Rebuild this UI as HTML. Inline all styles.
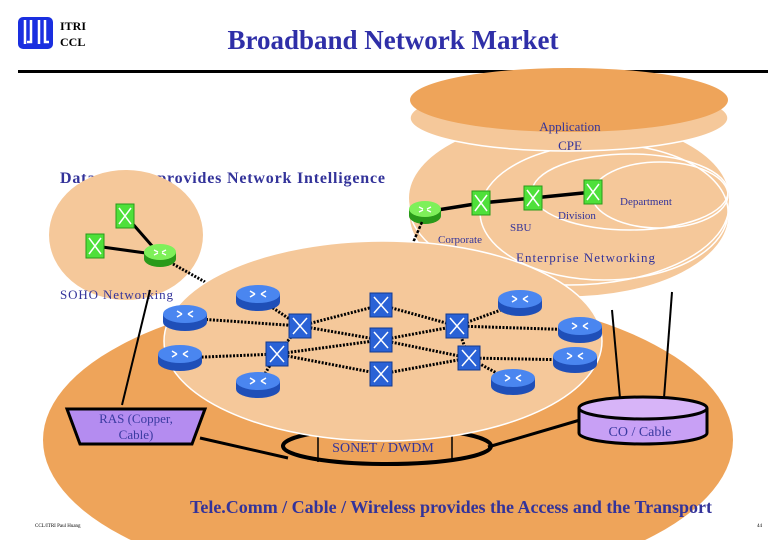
<!DOCTYPE html>
<html><head><meta charset="utf-8"><style>
html,body{margin:0;padding:0;background:#fff;width:780px;height:540px;overflow:hidden;}
svg{display:block;}
text{font-family:"Liberation Serif",serif;}
</style></head><body>
<svg width="780" height="540" viewBox="0 0 780 540" xmlns="http://www.w3.org/2000/svg">
<defs>
<g id="rb"><ellipse cx="0" cy="4" rx="22" ry="9" fill="#1f4fb8"/><rect x="-22" y="-4" width="44" height="8" fill="#1f4fb8"/><ellipse cx="0" cy="-4" rx="22" ry="9" fill="#4a86f0"/><path d="M-8,-7 l5,3 M8,-7 l-5,3 M-8,-1 l5,-3 M8,-1 l-5,-3" stroke="#fff" stroke-width="1.5"/></g>
<g id="sb"><rect x="-11" y="-12" width="22" height="24" fill="#2a62d6" stroke="#123a90"/><path d="M-7,-8 L7,8 M7,-8 L-7,8" stroke="#fff" stroke-width="1.5"/></g>
<g id="rg"><ellipse cx="0" cy="4" rx="16" ry="8" fill="#2a9a1a"/><rect x="-16" y="-3" width="32" height="7" fill="#2a9a1a"/><ellipse cx="0" cy="-3" rx="16" ry="8" fill="#7ef05a"/><path d="M-6,-5 l4,2 M6,-5 l-4,2 M-6,0 l4,-2 M6,0 l-4,-2" stroke="#fff" stroke-width="1.3"/></g>
<g id="sg"><rect x="-9" y="-12" width="18" height="24" fill="#4fe03a" stroke="#2a9a1a"/><path d="M-6,-8 L6,8 M6,-8 L-6,8" stroke="#fff" stroke-width="1.5"/></g>
</defs>
<!-- header -->
<rect x="18" y="17" width="35" height="32" rx="5" fill="#1a2fe0"/>
<path d="M25,20 v24 M31,20 v22 h-4 M39,20 v24 M45,20 v22 h4" stroke="#fff" stroke-width="2.5" fill="none"/>
<text x="60" y="30" font-size="12" font-weight="bold">ITRI</text>
<text x="60" y="46" font-size="12" font-weight="bold">CCL</text>
<text x="393" y="49" font-size="27" font-weight="bold" fill="#2f2fa8" text-anchor="middle">Broadband Network Market</text>
<rect x="18" y="70" width="750" height="3" fill="#000"/>
<!-- big orange -->
<ellipse cx="388" cy="440" rx="345" ry="150" fill="#eea45a"/>
<text x="190" y="513" font-size="18" font-weight="bold" fill="#33339a" textLength="522">Tele.Comm / Cable / Wireless provides the Access and the Transport</text>
<text x="35" y="527" font-size="5" fill="#000">CCL/ITRI Paul Huang</text>
<text x="757" y="527" font-size="5" fill="#000">44</text>
<!-- enterprise stack -->
<ellipse cx="569" cy="215" rx="160" ry="82" fill="#f5c89a" stroke="#fff" stroke-width="1.5"/>
<ellipse cx="569" cy="205" rx="160" ry="80" fill="#f5c89a" stroke="#fff" stroke-width="1.5"/>
<ellipse cx="569" cy="198" rx="160" ry="80" fill="#f5c89a"/>
<ellipse cx="604" cy="212" rx="124" ry="68" fill="none" stroke="#fff" stroke-width="1.5"/>
<ellipse cx="630" cy="192" rx="98" ry="38" fill="none" stroke="#fff" stroke-width="1.5"/>
<ellipse cx="660" cy="195" rx="68" ry="33" fill="none" stroke="#fff" stroke-width="1.5"/>
<ellipse cx="569" cy="118" rx="159" ry="33" fill="#f5c89a" stroke="#fff" stroke-width="1.5"/>
<ellipse cx="569" cy="100" rx="159" ry="32" fill="#eea45a"/>
<text x="570" y="131" font-size="13" fill="#33339a" text-anchor="middle">Application</text>
<text x="570" y="150" font-size="13" fill="#33339a" text-anchor="middle">CPE</text>
<path d="M425,212 L481,203 L533,198 L593,192" stroke="#000" stroke-width="3.5" fill="none"/>
<use href="#rg" x="425" y="212"/><use href="#sg" x="481" y="203"/><use href="#sg" x="533" y="198"/><use href="#sg" x="593" y="192"/>
<text x="620" y="205" font-size="11" fill="#33339a">Department</text>
<text x="558" y="219" font-size="11" fill="#33339a">Division</text>
<text x="510" y="231" font-size="11" fill="#33339a">SBU</text>
<text x="438" y="243" font-size="11" fill="#33339a">Corporate</text>
<text x="516" y="262" font-size="13" fill="#33339a" textLength="139">Enterprise Networking</text>
<!-- data center text + SOHO -->
<text x="60" y="183" font-size="16" font-weight="bold" fill="#33339a" textLength="325">Data Center provides Network Intelligence</text>
<ellipse cx="126" cy="235" rx="77" ry="65" fill="#f5c89a"/>
<path d="M125,215 L160,255 L95,246" stroke="#000" stroke-width="3" fill="none"/>
<use href="#sg" x="125" y="216"/><use href="#sg" x="95" y="246"/><use href="#rg" x="160" y="255"/>
<text x="60" y="299" font-size="13" fill="#33339a" textLength="113">SOHO Networking</text>
<!-- connectors -->
<path d="M173,264 L205,282" stroke="#000" stroke-width="3" stroke-dasharray="2,1.5"/>
<path d="M422,222 L412,245" stroke="#000" stroke-width="2.5" stroke-dasharray="3,1.5"/>
<path d="M150,290 L122,405" stroke="#000" stroke-width="2"/>
<path d="M672,292 L664,398" stroke="#000" stroke-width="2"/>
<path d="M612,310 L620,398" stroke="#000" stroke-width="2"/>
<path d="M200,438 L288,458" stroke="#000" stroke-width="3"/>
<path d="M580,420 L488,447" stroke="#000" stroke-width="3"/>
<!-- SONET ring -->
<ellipse cx="387" cy="446" rx="104" ry="18" fill="none" stroke="#000" stroke-width="4"/>
<path d="M318,425 V462 M452,425 V462" stroke="#000" stroke-width="1.5"/>
<text x="383" y="452" font-size="14" fill="#33339a" text-anchor="middle">SONET / DWDM</text>
<!-- core -->
<ellipse cx="383" cy="341" rx="219" ry="100" fill="#f5c89a" stroke="#fff" stroke-width="1.5"/>
<g stroke="#000" stroke-width="3" stroke-dasharray="2,1.5" fill="none">
<path d="M258,298 L300,326 M185,318 L300,326 M300,326 L381,305 M300,326 L381,340 M300,326 L277,354 M277,354 L180,358 M277,354 L258,385 M277,354 L381,340 M277,354 L381,374 M381,305 L457,326 M381,340 L457,326 M381,340 L469,358 M381,374 L469,358 M457,326 L520,303 M457,326 L580,330 M457,326 L469,358 M469,358 L575,360 M469,358 L513,382"/>
</g>
<use href="#rb" x="258" y="298"/><use href="#rb" x="185" y="318"/><use href="#rb" x="180" y="358"/><use href="#rb" x="258" y="385"/>
<use href="#rb" x="520" y="303"/><use href="#rb" x="580" y="330"/><use href="#rb" x="575" y="360"/><use href="#rb" x="513" y="382"/>
<use href="#sb" x="381" y="305"/><use href="#sb" x="300" y="326"/><use href="#sb" x="381" y="340"/><use href="#sb" x="277" y="354"/>
<use href="#sb" x="457" y="326"/><use href="#sb" x="469" y="358"/><use href="#sb" x="381" y="374"/>
<!-- RAS -->
<path d="M67,409 L205,409 L192,444 L80,444 Z" fill="#b48cf0" stroke="#000" stroke-width="3"/>
<text x="136" y="423" font-size="13" fill="#3a3aa0" text-anchor="middle" font-family="Liberation Sans">RAS (Copper,</text>
<text x="136" y="439" font-size="13" fill="#3a3aa0" text-anchor="middle" font-family="Liberation Sans">Cable)</text>
<!-- CO -->
<path d="M579,408 V433 A64,11 0 0 0 707,433 V408" fill="#c8a0f5" stroke="#000" stroke-width="3"/>
<ellipse cx="643" cy="408" rx="64" ry="11" fill="#d7b4f8" stroke="#000" stroke-width="3"/>
<text x="640" y="436" font-size="14" fill="#3a3aa0" text-anchor="middle" font-family="Liberation Sans">CO / Cable</text>
</svg>
</body></html>
